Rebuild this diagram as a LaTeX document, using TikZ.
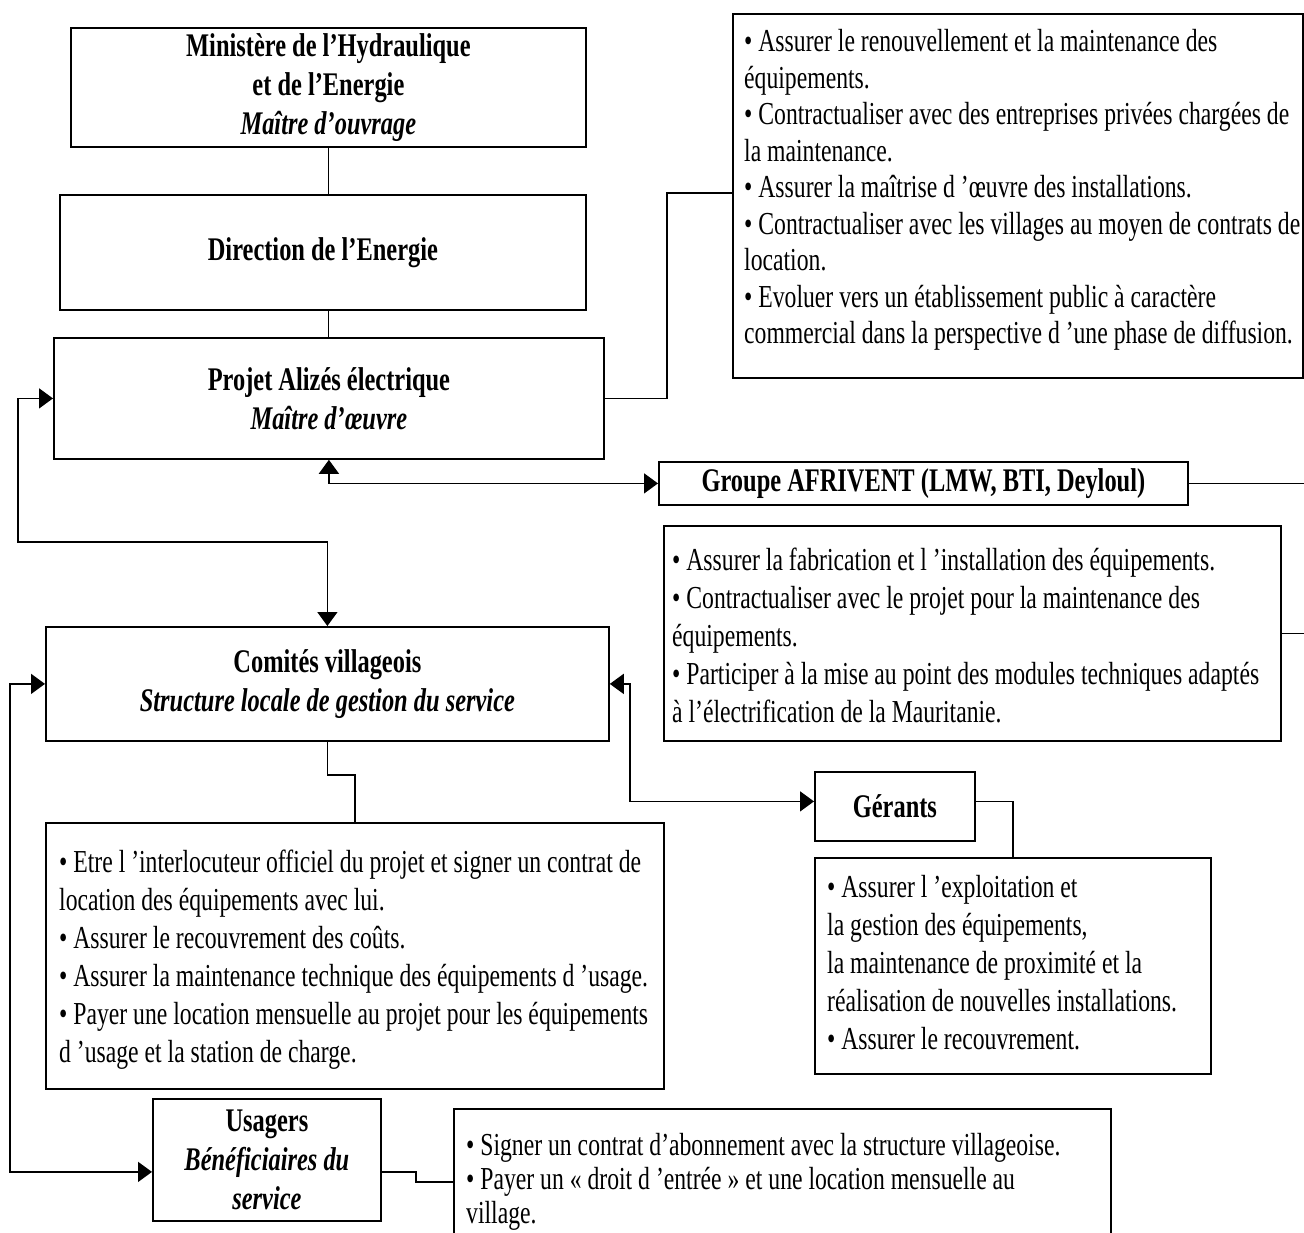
\documentclass[tikz,border=0pt]{standalone}
\usepackage{fontspec}
\setmainfont{Liberation Serif}[FakeStretch=0.74]
\usetikzlibrary{arrows.meta}

\newcommand\headfont{\fontsize{33}{39}\selectfont\bfseries}
\newcommand\bodyfont{\fontsize{32}{38}\selectfont}

\begin{document}
\begin{tikzpicture}[x=1pt,y=-1pt,
  frame/.style 2 args={draw, line width=1.8pt, anchor=north west, inner sep=0pt,
    minimum width=#1pt, minimum height=#2pt},
  title/.style 2 args={frame={#1}{#2}, align=center, font=\headfont},
  role/.style={anchor=west, inner sep=0pt, align=left, font=\bodyfont},
  link/.style={line width=1.6pt},
  tip/.style={link, -{Triangle[length=14pt,width=20pt]}},
  twotips/.style={link, {Triangle[length=14pt,width=20pt]}-{Triangle[length=14pt,width=20pt]}}]

\useasboundingbox (0,0) rectangle (1304,1232);
\clip (0,0) rectangle (1304,1232);

% ---- institutional chain -------------------------------------------
\node[title={515}{119}] (mhe) at (70,27)
  {Ministère de l’Hydraulique\\et de l’Energie\\\textit{Maître d’ouvrage}};
\node[title={526}{115}] (dir) at (59,194) {Direction de l’Energie};
\node[title={550}{121}] (proj) at (53,337)
  {Projet Alizés électrique\\\textit{Maître d’œuvre}};

% ---- project role ---------------------------------------------------
\node[frame={570}{364}] (roleproj) at (732,13) {};
\node[role, font=\fontsize{32}{36.5}\selectfont] (roleprojtext)
  at ([xshift=12pt,yshift=6pt]roleproj.west)
  {• Assurer le renouvellement et la maintenance des\\
   équipements.\\
   • Contractualiser avec des entreprises privées chargées de\\
   la maintenance.\\
   • Assurer la maîtrise d ’œuvre des installations.\\
   • Contractualiser avec les villages au moyen de contrats de\\
   location.\\
   • Evoluer vers un établissement public à caractère\\
   commercial dans la perspective d ’une phase de diffusion.};

% ---- manufacturers ---------------------------------------------------
\node[title={529}{43}] (afri) at (658,461) {Groupe AFRIVENT (LMW, BTI, Deyloul)};
\node[frame={617}{215}] (roleafri) at (663,525) {};
\node[role] (roleafritext) at ([xshift=9pt,yshift=-2pt]roleafri.west)
  {• Assurer la fabrication et l ’installation des équipements.\\
   • Contractualiser avec le projet pour la maintenance des\\
   équipements.\\
   • Participer à la mise au point des modules techniques adaptés\\
   à l’électrification de la Mauritanie.};

% ---- village committees ---------------------------------------------
\node[title={563}{114}] (comite) at (45,626)
  {Comités villageois\\\textit{Structure locale de gestion du service}};
\node[frame={618}{266}] (rolecomite) at (45,822) {};
\node[role] (rolecomitetext) at ([xshift=14pt,yshift=-4pt]rolecomite.west)
  {• Etre l ’interlocuteur officiel du projet et signer un contrat de\\
   location des équipements avec lui.\\
   • Assurer le recouvrement des coûts.\\
   • Assurer la maintenance technique des équipements d ’usage.\\
   • Payer une location mensuelle au projet pour les équipements\\
   d ’usage et la station de charge.};

% ---- managers ---------------------------------------------------------
\node[title={160}{69}] (gerants) at (814,771) {Gérants};
\node[frame={396}{216}] (rolegerants) at (814,857) {};
\node[role] (rolegerantstext) at ([xshift=13pt,yshift=3pt]rolegerants.west)
  {• Assurer l ’exploitation et\\
   la gestion des équipements,\\
   la maintenance de proximité et la\\
   réalisation de nouvelles installations.\\
   • Assurer le recouvrement.};

% ---- users ------------------------------------------------------------
\node[title={228}{122}] (usagers) at (152,1098)
  {Usagers\\\textit{Bénéficiaires du}\\\textit{service}};
\node[frame={657}{142}] (roleusagers) at (453,1108) {};
\node[role, font=\fontsize{32}{34}\selectfont] (roleusagerstext)
  at ([xshift=13pt,yshift=-2pt]roleusagers.west)
  {• Signer un contrat d’abonnement avec la structure villageoise.\\
   • Payer un « droit d ’entrée » et une location mensuelle au\\
   village.};

% ---- connectors -------------------------------------------------------
\draw[link] (mhe.south) -- (mhe.south |- dir.north);
\draw[link] (mhe.south |- dir.south) -- (mhe.south |- proj.north);
\draw[link] (proj.east) -- ++(62,0) |- (roleproj.west |- 0,193);
\draw[twotips] (proj.south) |- (afri.west);
\draw[link] (afri.east) -- ++(140,0) |- (roleafri.east);
\draw[twotips] (proj.west) -- ++(-35,0) |- (comite.north |- 0,542) -- (comite.north);
\draw[twotips] (comite.west) -- ++(-35,0) |- ([yshift=-12pt]usagers.west);
\draw[twotips] (comite.east) -- ++(20,0) |- ([yshift=5pt]gerants.west);
\draw[link] ([yshift=5pt]gerants.east) -| (rolegerants.north);
\draw[link] (comite.south) -- ++(0,33) -| (rolecomite.north);
\draw[link] ([yshift=-12pt]usagers.east) -- ++(34,0) |- (roleusagers.west |- 0,1182);

\end{tikzpicture}
\end{document}
